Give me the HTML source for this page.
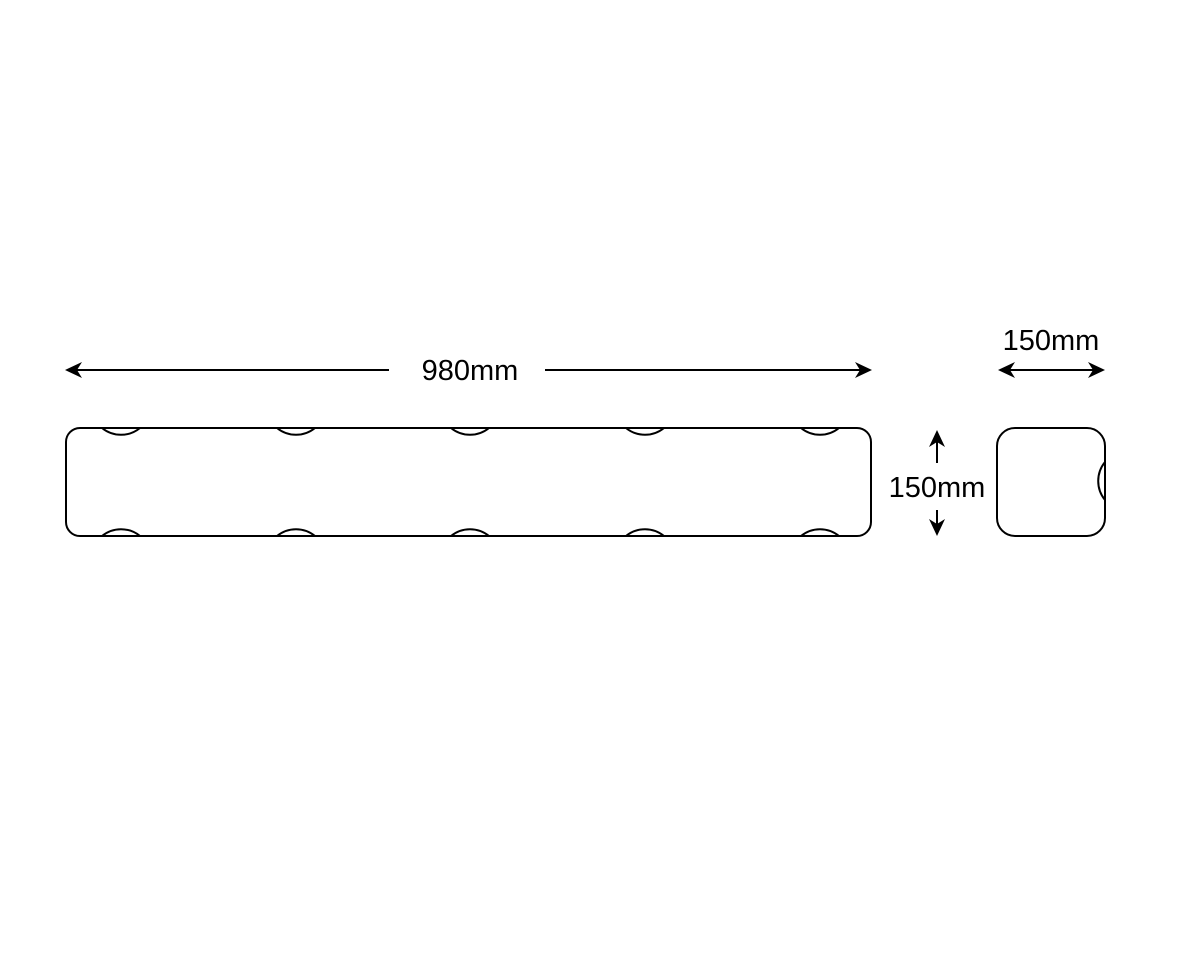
<!DOCTYPE html>
<html><head><style>body{margin:0;background:#fff}</style></head><body>
<svg width="1200" height="950" xmlns="http://www.w3.org/2000/svg" font-family="Liberation Sans, sans-serif">
<rect width="1200" height="950" fill="#fff"/>
<g stroke="#000" stroke-width="2" fill="none">
<rect x="66" y="428" width="805" height="108" rx="14"/>
<path d="M102 428 A30 30 0 0 0 140 428 M277 428 A30 30 0 0 0 315 428 M451 428 A30 30 0 0 0 489 428 M626 428 A30 30 0 0 0 664 428 M801 428 A30 30 0 0 0 839 428"/>
<path d="M102 536 A30 30 0 0 1 140 536 M277 536 A30 30 0 0 1 315 536 M451 536 A30 30 0 0 1 489 536 M626 536 A30 30 0 0 1 664 536 M801 536 A30 30 0 0 1 839 536"/>
<rect x="997" y="428" width="108" height="108" rx="18"/>
<path d="M1105 462 A30 30 0 0 0 1105 500"/>
<line x1="75" y1="370" x2="389" y2="370"/>
<line x1="545" y1="370" x2="862" y2="370"/>
<line x1="1008" y1="370" x2="1095" y2="370"/>
<line x1="937" y1="440" x2="937" y2="463"/>
<line x1="937" y1="510" x2="937" y2="527"/>
</g>
<g fill="#000">
<path d="M65 370 L82 362 L77 370 L82 378Z"/>
<path d="M872 370 L855 362 L860 370 L855 378Z"/>
<path d="M998 370 L1015 362 L1010 370 L1015 378Z"/>
<path d="M1105 370 L1088 362 L1093 370 L1088 378Z"/>
<path d="M937 430 L929 447 L937 442 L945 447Z"/>
<path d="M937 536 L929 519 L937 524 L945 519Z"/>
</g>
<g font-size="29" text-anchor="middle" fill="#000">
<text x="470" y="380">980mm</text>
<text x="1051" y="350">150mm</text>
<text x="937" y="497">150mm</text>
</g>
</svg>
</body></html>
